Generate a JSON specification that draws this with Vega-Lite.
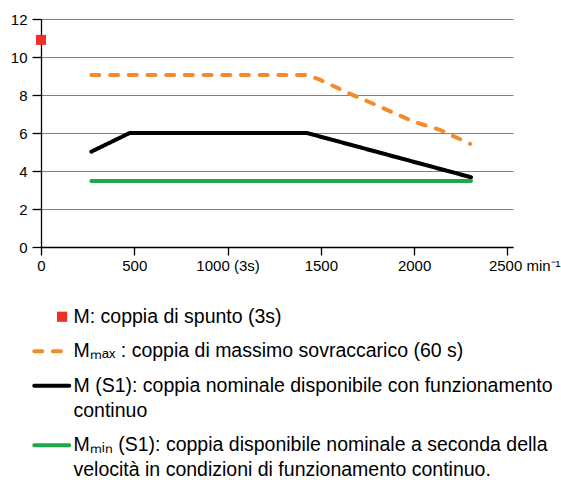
{
  "$schema": "https://vega.github.io/schema/vega-lite/v6.json",
  "autosize": "none",
  "width": 472,
  "height": 228,
  "padding": {"left": 41, "top": 19, "right": 48, "bottom": 233},
  "background": "white",
  "data": {
    "values": [
      {"series": "M", "rpm": 0, "torque": 10.9},
      {"series": "MMAX", "rpm": 270, "torque": 9.05},
      {"series": "MMAX", "rpm": 1430, "torque": 9.05},
      {"series": "MMAX", "rpm": 1500, "torque": 8.78},
      {"series": "MMAX", "rpm": 1660, "torque": 8.05},
      {"series": "MMAX", "rpm": 1818, "torque": 7.38},
      {"series": "MMAX", "rpm": 1996, "torque": 6.6},
      {"series": "MMAX", "rpm": 2139, "torque": 6.16},
      {"series": "MMAX", "rpm": 2300, "torque": 5.43},
      {"series": "MS1", "rpm": 270, "torque": 5.02},
      {"series": "MS1", "rpm": 475, "torque": 6.0},
      {"series": "MS1", "rpm": 1425, "torque": 6.0},
      {"series": "MS1", "rpm": 2305, "torque": 3.67},
      {"series": "MMIN", "rpm": 270, "torque": 3.47},
      {"series": "MMIN", "rpm": 2305, "torque": 3.47}
    ]
  },
  "config": {
    "view": {"stroke": null},
    "axis": {
      "labelFont": "Liberation Sans",
      "labelFontSize": 15,
      "labelColor": "#000",
      "domainColor": "#000",
      "domainWidth": 1.3,
      "tickColor": "#000",
      "tickWidth": 1.3,
      "labelOverlap": false,
      "title": null
    },
    "legend": {
      "labelFont": "Liberation Sans",
      "labelFontSize": 19.5,
      "labelColor": "#000",
      "labelLimit": 0
    }
  },
  "encoding": {
    "x": {
      "field": "rpm",
      "type": "quantitative",
      "scale": {"domain": [0, 2530], "nice": false, "zero": false},
      "axis": {
        "values": [0, 500, 1000, 1500, 2000, 2500],
        "format": "d",
        "grid": false,
        "tickSize": 8,
        "labelPadding": 3,
        "labelExpr": "datum.value == 1000 ? '1000 (3s)' : datum.value == 2500 ? '2500 min⁻¹' : datum.label",
        "labelAlign": {"condition": {"test": "datum.value == 2500", "value": "left"}, "value": "center"},
        "labelOffset": {"condition": {"test": "datum.value == 2500", "value": -19}, "value": 0},
        "labelFlush": false
      }
    },
    "y": {
      "field": "torque",
      "type": "quantitative",
      "scale": {"domain": [0, 12], "nice": false},
      "axis": {
        "values": [0, 2, 4, 6, 8, 10, 12],
        "grid": true,
        "gridColor": "#808080",
        "gridWidth": 1.2,
        "tickSize": 9,
        "labelPadding": 5
      }
    }
  },
  "layer": [
    {
      "transform": [{"filter": "datum.series != 'M'"}],
      "mark": {"type": "line", "strokeWidth": 4, "strokeCap": "round", "strokeJoin": "round", "clip": false},
      "encoding": {
        "color": {
          "field": "series",
          "type": "nominal",
          "scale": {
            "domain": ["M", "MMAX", "MS1", "MMIN"],
            "range": ["#EE3124", "#F58A2C", "#000000", "#1DA84A"]
          },
          "legend": {
            "orient": "none",
            "legendX": 1,
            "legendY": 288,
            "title": null,
            "padding": 0,
            "symbolType": "stroke",
            "symbolSize": 1225,
            "symbolStrokeWidth": 4,
            "labelOffset": 12,
            "rowPadding": 13.5,
            "labelExpr": "datum.value == 'M' ? 'M: coppia di spunto (3s)' : datum.value == 'MMAX' ? 'Mₘₐₓ : coppia di massimo sovraccarico (60 s)' : datum.value == 'MS1' ? ['M (S1): coppia nominale disponibile con funzionamento', 'continuo'] : ['Mₘᵢₙ (S1): coppia disponibile nominale a seconda della', 'velocità in condizioni di funzionamento continuo.']",
            "encode": {
              "labels": {
                "update": {
                  "lineHeight": {"value": 25}
                }
              },
              "symbols": {
                "update": {
                  "shape": {"signal": "datum.value == 'M' ? 'M0.3,-0.29H0.88V0.29H0.3Z' : 'stroke'"},
                  "fill": {"signal": "datum.value == 'M' ? '#EE3124' : 'transparent'"},
                  "strokeWidth": {"signal": "datum.value == 'M' ? 0 : 4"},
                  "strokeDash": {"signal": "datum.value == 'MMAX' ? [6, 7] : [1, 0]"},
                  "strokeCap": {"value": "round"}
                }
              }
            }
          }
        },
        "strokeDash": {
          "field": "series",
          "type": "nominal",
          "scale": {
            "domain": ["M", "MMAX", "MS1", "MMIN"],
            "range": [[1, 0], [8, 10.7], [1, 0], [1, 0]]
          },
          "legend": null
        }
      }
    },
    {
      "transform": [{"filter": "datum.series == 'M'"}],
      "mark": {"type": "point", "shape": "square", "filled": true, "size": 100, "opacity": 1, "color": "#EE3124", "clip": false},
      "encoding": {}
    }
  ]
}
